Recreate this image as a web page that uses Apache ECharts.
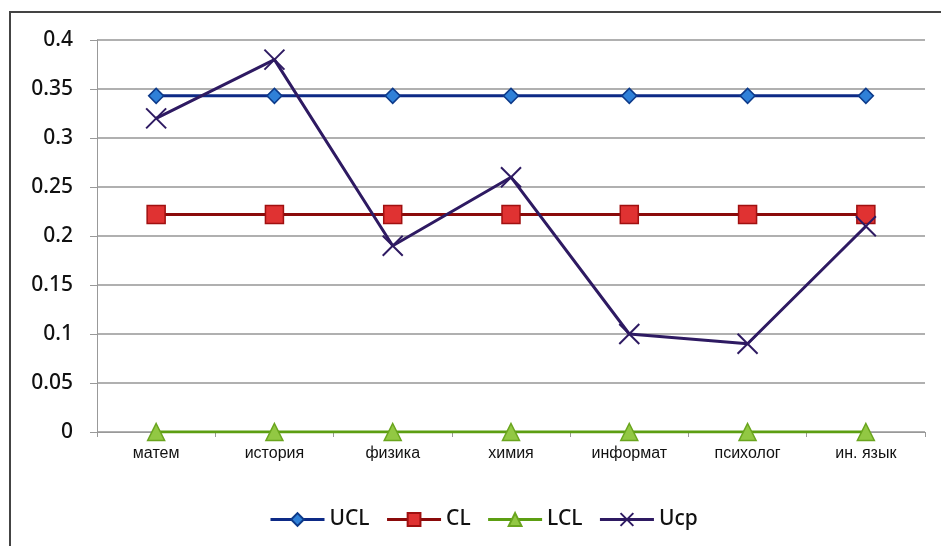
<!DOCTYPE html>
<html>
<head>
<meta charset="utf-8">
<script src="https://cdn.jsdelivr.net/npm/echarts@6/dist/echarts.min.js"></script>
<style>
  html, body { margin: 0; padding: 0; background: #fff; }
  #chart { width: 941px; height: 546px; }
</style>
</head>
<body>
<div id="chart"></div>
<script>
// категории и значения контрольной карты
const subjects = ['матем', 'история', 'физика', 'химия', 'информат', 'психолог', 'ин. язык']
const ucl = [0.343, 0.343, 0.343, 0.343, 0.343, 0.343, 0.343]
const cl = [0.222, 0.222, 0.222, 0.222, 0.222, 0.222, 0.222]
const lcl = [0, 0, 0, 0, 0, 0, 0]
const ucp = [0.32, 0.38, 0.19, 0.26, 0.10, 0.09, 0.21]

const chart = echarts.init(document.getElementById('chart'))

const crossPath = 'path://M0,0L10,10M10,0L0,10'

const option = {
  animation: false,
  graphic: [
    {
      type: 'rect',
      shape: { x: 10, y: 12, width: 1000, height: 600 },
      style: { fill: 'none', stroke: '#444', lineWidth: 2 },
      silent: true
    }
  ],
  grid: { left: 97, right: 16, top: 40, bottom: 114 },
  legend: {
    bottom: 11,
    left: 264,
    itemWidth: 54,
    itemHeight: 16,
    itemGap: 16,
    lineStyle: { width: 3 },
    textStyle: { fontFamily: 'Noto Sans', fontSize: 21, fontWeight: 500, color: '#111' },
    data: ['UCL', 'CL', 'LCL', 'Ucp']
  },
  xAxis: {
    type: 'category',
    data: subjects,
    boundaryGap: true,
    axisLine: { lineStyle: { color: '#999', width: 1 } },
    axisTick: { show: true, length: 5, lineStyle: { color: '#999' } },
    axisLabel: {
      color: '#111',
      fontFamily: 'Liberation Sans',
      fontSize: 16,
      margin: 14
    }
  },
  yAxis: {
    type: 'value',
    min: 0,
    max: 0.4,
    interval: 0.05,
    axisLine: { show: true, lineStyle: { color: '#999', width: 1 } },
    axisTick: { show: true, length: 7, lineStyle: { color: '#999' } },
    splitLine: { lineStyle: { color: '#b0b0b0', width: 2 } },
    axisLabel: {
      color: '#111',
      fontFamily: 'Noto Sans',
      fontSize: 21,
      fontWeight: 500,
      margin: 24,
      formatter: (v) => String(Math.round(v * 100) / 100)
    }
  },
  series: [
    {
      name: 'UCL',
      type: 'line',
      data: ucl,
      symbol: 'diamond',
      symbolSize: 15,
      lineStyle: { color: '#0d2a86', width: 3 },
      itemStyle: { color: '#2f80d8', borderColor: '#0d3a8a', borderWidth: 1.5 },
      z: 3
    },
    {
      name: 'CL',
      type: 'line',
      data: cl,
      symbol: 'rect',
      symbolSize: 18,
      lineStyle: { color: '#8a0a0a', width: 3 },
      itemStyle: { color: '#e03232', borderColor: '#a01010', borderWidth: 1.5 },
      z: 3
    },
    {
      name: 'LCL',
      type: 'line',
      data: lcl,
      symbol: 'triangle',
      symbolSize: 17,
      lineStyle: { color: '#5c9e12', width: 3 },
      itemStyle: { color: '#92c843', borderColor: '#6aa51e', borderWidth: 1.5 },
      z: 3
    },
    {
      name: 'Ucp',
      type: 'line',
      data: ucp,
      symbol: crossPath,
      symbolSize: 20,
      lineStyle: { color: '#2e1a62', width: 3 },
      itemStyle: { color: '#2e1a62', borderColor: '#2e1a62', borderWidth: 2 },
      z: 4
    }
  ]
}

chart.setOption(option)

window.addEventListener('resize', function () {
  chart.resize()
})
</script>
</body>
</html>
